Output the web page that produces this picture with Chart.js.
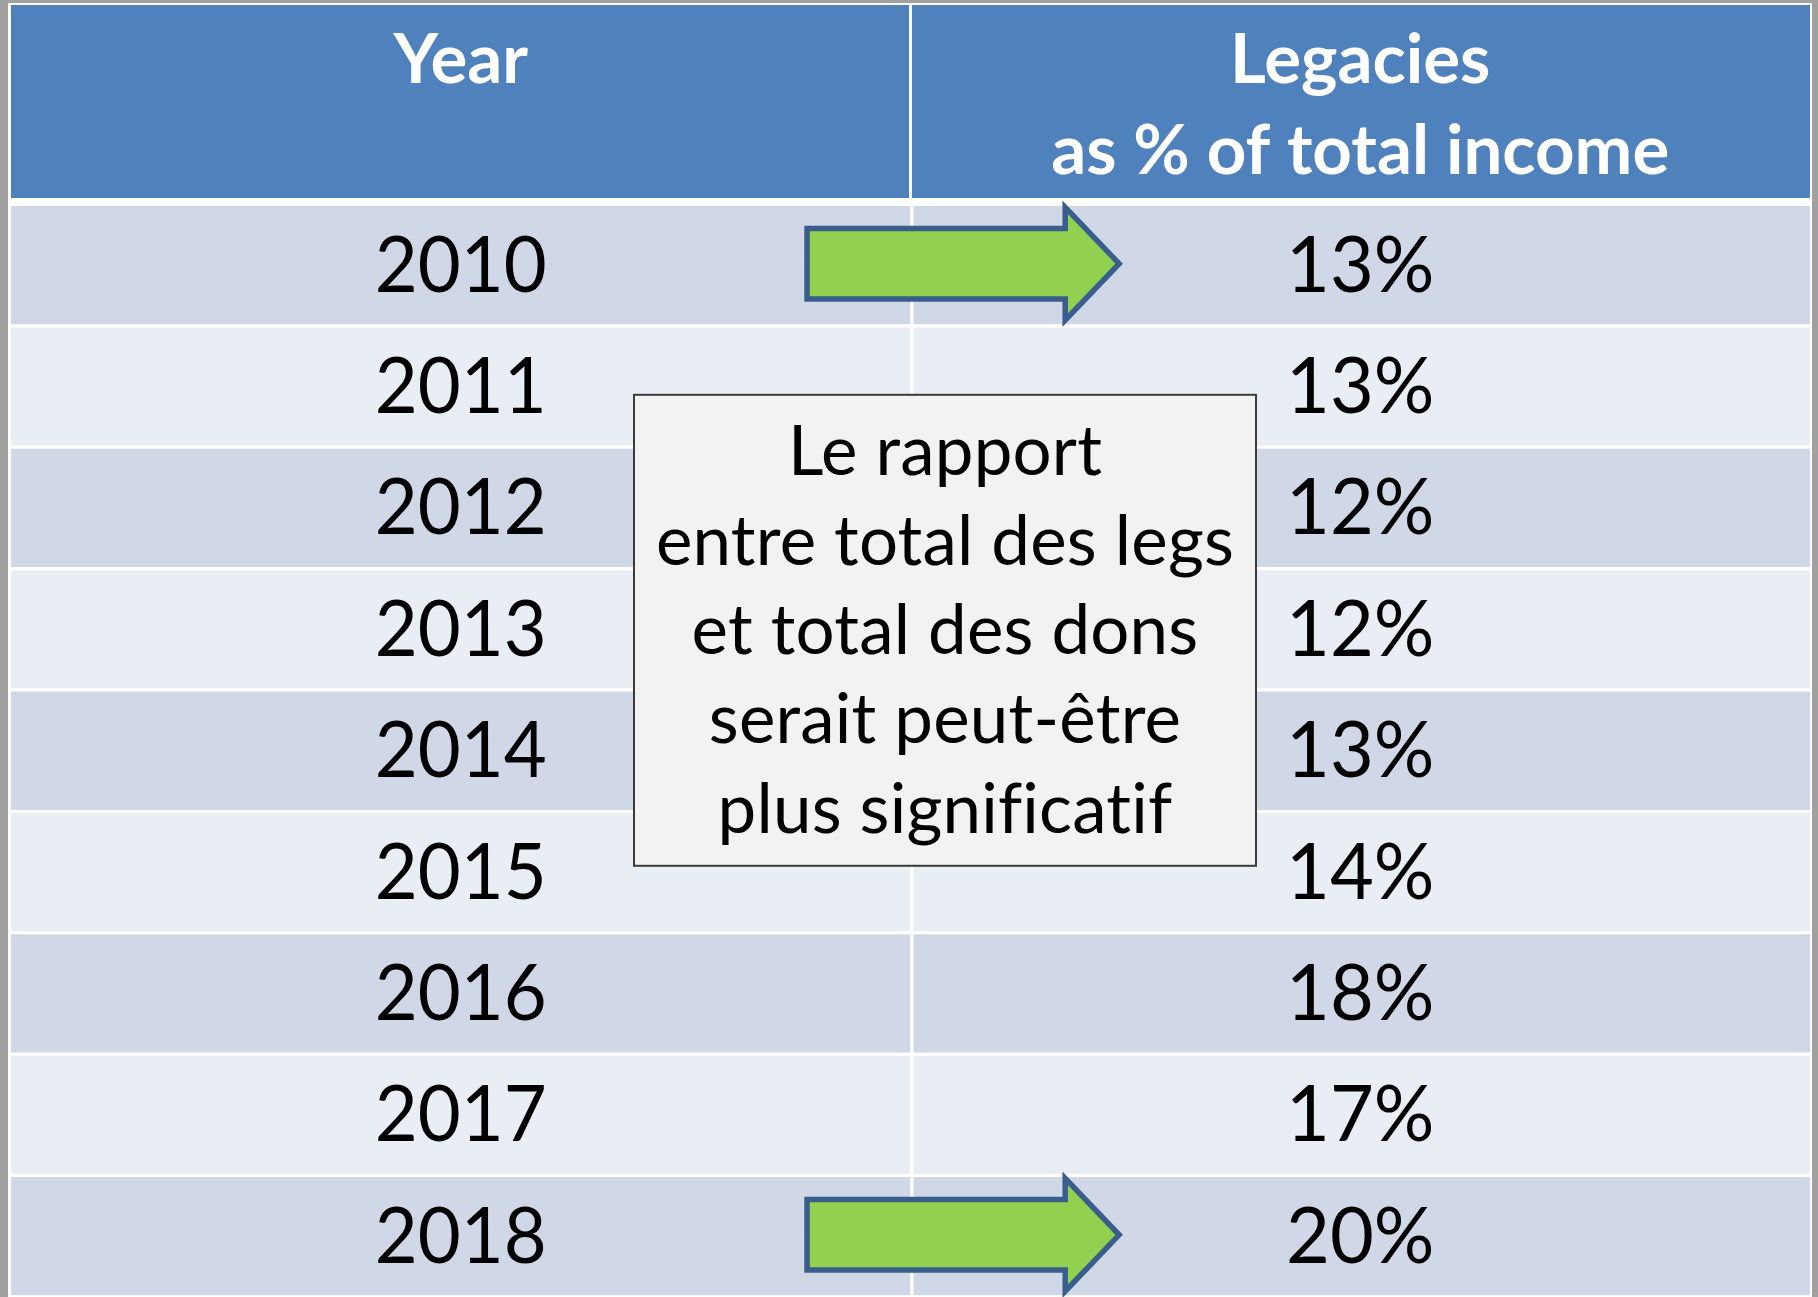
<!DOCTYPE html>
<html>
<head>
<meta charset="utf-8">
<script src="https://cdn.jsdelivr.net/npm/chart.js@4/dist/chart.umd.min.js"></script>
<style>
html,body{margin:0;padding:0;background:#a0a0a0;overflow:hidden}
#wrap{width:1818px;height:1297px;position:relative}
canvas{display:block}
</style>
</head>
<body>
<div id="wrap"><canvas id="c" width="1818" height="1297"></canvas></div>
<script>
// ---- data ----
const years = ['2010','2011','2012','2013','2014','2015','2016','2017','2018'];
const legacyPct = [13,13,12,12,13,14,18,17,20];
const headerYear = ['Year'];
const headerLegacies = ['Legacies','as % of total income'];
const arrowYears = ['2010','2018'];
const noteLines = ['Le rapport','entre total des legs','et total des dons','serait peut-être','plus significatif'];

// ---- style ----
const FONT = 'Lato, "Open Sans", sans-serif';
const C_HEAD = '#4f81bd', C_DARK = '#d0d8e8', C_LIGHT = '#e9edf4';
const C_PAGE = '#a0a0a0';

const rowColors = years.map((_, i) => i % 2 === 0 ? C_DARK : C_LIGHT);

function drawText(ctx, t, x, y, sx) {
  ctx.save();
  ctx.translate(x, y);
  ctx.scale(sx, 1);
  ctx.fillText(t, 0, 0);
  ctx.restore();
}

const tablePlugin = {
  id: 'tablePlugin',
  beforeDraw(chart) {
    const {ctx, chartArea: a, scales: {x}} = chart;
    ctx.save();
    ctx.fillStyle = C_PAGE;
    ctx.fillRect(0, 0, chart.width, chart.height);
    ctx.fillStyle = '#ffffff';
    ctx.fillRect(a.left - 3, 3, a.right - a.left + 5, chart.height - 3);
    // header cells
    const hTop = 5, hBot = a.top - 5;
    const x0 = x.getPixelForValue(0), x1 = x.getPixelForValue(1), x2 = x.getPixelForValue(2);
    ctx.fillStyle = C_HEAD;
    ctx.fillRect(x0, hTop, x1 - 1.5 - x0, hBot - hTop);
    ctx.fillRect(x1 + 1.5, hTop, x2 - x1 - 1.5, hBot - hTop);
    ctx.restore();
  },
  afterDatasetsDraw(chart) {
    const {ctx, chartArea: a, scales: {x, y}} = chart;
    ctx.save();
    // header text
    ctx.fillStyle = '#ffffff';
    ctx.textAlign = 'center';
    ctx.textBaseline = 'alphabetic';
    ctx.font = 'bold 69px ' + FONT;
    const hb = 83, hp = 91;
    headerYear.forEach((t, i) => ctx.fillText(t, x.getPixelForValue(0.5), hb + i * hp));
    headerLegacies.forEach((t, i) => ctx.fillText(t, x.getPixelForValue(1.5), hb + i * hp));

    // body text
    ctx.fillStyle = '#000000';
    ctx.font = '78px ' + FONT;
    const cap = 78 * 0.717;
    years.forEach((yr, i) => {
      const cy = y.getPixelForValue(i);
      drawText(ctx, yr, x.getPixelForValue(0.5), cy + cap / 2, 0.95);
      drawText(ctx, legacyPct[i] + '%', x.getPixelForValue(1.5), cy + cap / 2, 0.97);
    });

    // arrows
    const rowH = y.getPixelForValue(1) - y.getPixelForValue(0);
    arrowYears.forEach(yr => {
      const i = years.indexOf(yr);
      const cy = y.getPixelForValue(i);
      const xs = x.getPixelForValue(0.885), xh = x.getPixelForValue(1.172), xt = x.getPixelForValue(1.232);
      const bh = rowH * 0.29, hh = rowH * 0.465;
      ctx.beginPath();
      ctx.moveTo(xs, cy - bh);
      ctx.lineTo(xh, cy - bh);
      ctx.lineTo(xh, cy - hh);
      ctx.lineTo(xt, cy);
      ctx.lineTo(xh, cy + hh);
      ctx.lineTo(xh, cy + bh);
      ctx.lineTo(xs, cy + bh);
      ctx.closePath();
      ctx.fillStyle = '#92d050';
      ctx.fill();
      ctx.lineWidth = 5.5;
      ctx.lineJoin = 'miter';
      ctx.strokeStyle = '#3a5e8c';
      ctx.stroke();
    });

    // note box
    const bl = x.getPixelForValue(0.6926), br = x.getPixelForValue(1.3841);
    const bt = y.getPixelForValue(1.08), bb = y.getPixelForValue(4.96);
    ctx.fillStyle = '#f2f2f2';
    ctx.fillRect(bl, bt, br - bl, bb - bt);
    ctx.lineWidth = 2;
    ctx.strokeStyle = '#3a3a3a';
    ctx.strokeRect(bl, bt, br - bl, bb - bt);
    ctx.fillStyle = '#000000';
    ctx.font = '69px ' + FONT;
    if ('letterSpacing' in ctx) ctx.letterSpacing = '0.2px';
    const ncap = 66 * 0.717, pitch = 89.3;
    const cx = (bl + br) / 2, cyb = (bt + bb) / 2;
    noteLines.forEach((t, i) => {
      ctx.fillText(t, cx, cyb + (i - (noteLines.length - 1) / 2) * pitch + ncap / 2);
    });
    ctx.restore();
  }
};

function make() {
  new Chart(document.getElementById('c'), {
    type: 'bar',
    data: {
      labels: years,
      datasets: [
        {
          label: 'Year',
          data: years.map(() => [0, 1]),
          backgroundColor: rowColors,
          borderColor: '#ffffff',
          borderWidth: {top: 3, right: 0, bottom: 0, left: 0},
          borderSkipped: false,
          inflateAmount: 0,
          barPercentage: 1,
          categoryPercentage: 1,
          grouped: false
        },
        {
          label: 'Legacies as % of total income',
          data: years.map(() => [1, 2]),
          backgroundColor: rowColors,
          borderColor: '#ffffff',
          borderWidth: {top: 3, right: 0, bottom: 0, left: 3},
          borderSkipped: false,
          inflateAmount: 0,
          barPercentage: 1,
          categoryPercentage: 1,
          grouped: false
        }
      ]
    },
    options: {
      indexAxis: 'y',
      responsive: false,
      animation: false,
      events: [],
      layout: {padding: {left: 11, right: 8, top: 203, bottom: 1.5}},
      plugins: {legend: {display: false}, tooltip: {enabled: false}},
      scales: {
        x: {type: 'linear', min: 0, max: 2, display: false},
        y: {type: 'category', display: false, offset: true}
      }
    },
    plugins: [tablePlugin]
  });
}
if (document.fonts && document.fonts.load) {
  Promise.all([document.fonts.load('78px Lato'), document.fonts.load('bold 69px Lato')]).then(make, make);
} else { make(); }
</script>
</body>
</html>
